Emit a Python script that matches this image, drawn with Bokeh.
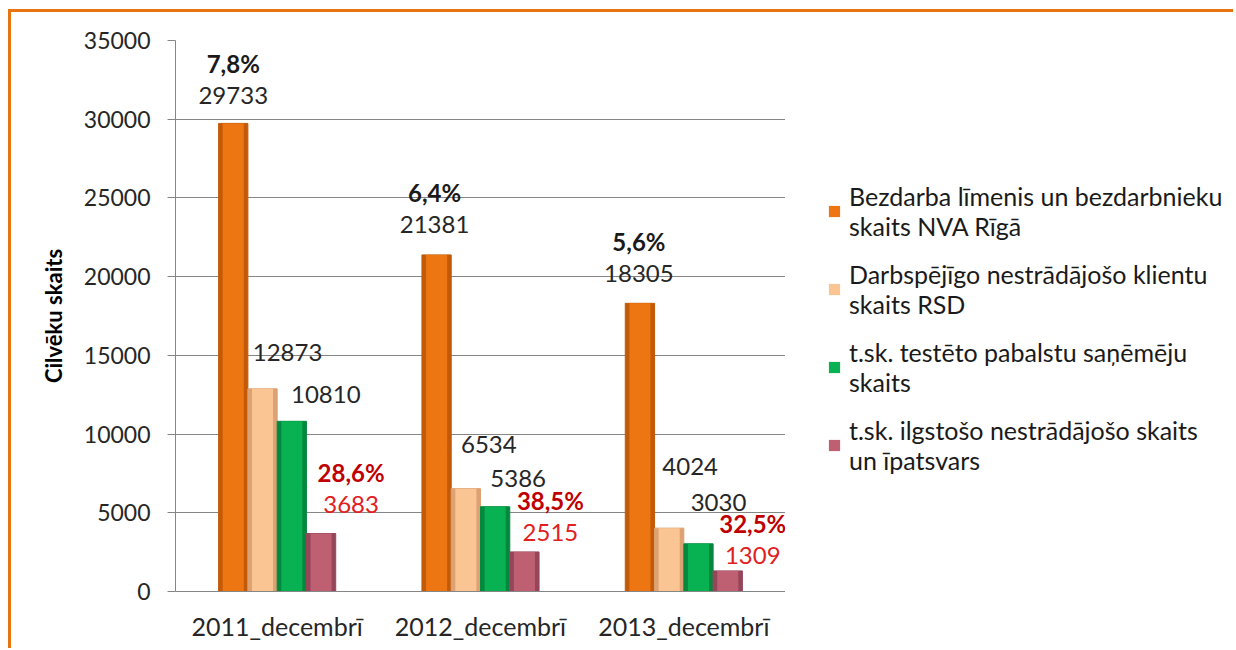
from bokeh.plotting import figure
from bokeh.layouts import row
from bokeh.models import FactorRange, Range1d, Legend, LegendItem, ColumnDataSource, FixedTicker
from bokeh.transform import dodge
from bokeh.core.properties import value
from bokeh.embed import file_html
from bokeh.resources import INLINE

# ---------------- data ----------------
years = ["2011_decembrī", "2012_decembrī", "2013_decembrī"]
series_names = [
    "Bezdarba līmenis un bezdarbnieku\nskaits NVA Rīgā",
    "Darbspējīgo nestrādājošo klientu\nskaits RSD",
    "t.sk. testēto pabalstu saņēmēju\nskaits",
    "t.sk. ilgstošo nestrādājošo skaits\nun īpatsvars",
]
nva_unemployed = [29733, 21381, 18305]
rsd_clients = [12873, 6534, 4024]
tested_recipients = [10810, 5386, 3030]
long_term = [3683, 2515, 1309]
unemployment_rate = ["7,8%", "6,4%", "5,6%"]
long_term_share = ["28,6%", "38,5%", "32,5%"]
y_ticks = [0, 5000, 10000, 15000, 20000, 25000, 30000, 35000]
y_label = "Cilvēku skaits"

# ---------------- styles ----------------
FONT = "Lato"
face_colors = ["#EE7612", "#FBC593", "#08B152", "#BE5F72"]
edge_colors = ["#C25A08", "#DDA273", "#05883E", "#96465A"]
offsets = [-0.216, -0.072, 0.072, 0.216]
bar_w = 0.144
# label placement (pixels): horizontal shift and gap above bar top
label_dx = [[0, -2, -1], [25, 23, 21], [34, 23, 20], [30, 26, 25]]
label_gap = [[18, 20, 20], [26, 34, 52], [17, 18, 31], [19, 9, 5]]
label_lift = 10
pct_gap = 32

values_all = [nva_unemployed, rsd_clients, tested_recipients, long_term]

p = figure(
    x_range=FactorRange(factors=years),
    y_range=Range1d(0, 35000),
    width=774, height=636,
    output_backend="svg", toolbar_location=None,
    min_border_left=164, min_border_top=28, min_border_bottom=57, min_border_right=0,
)
p.outline_line_color = None
p.background_fill_color = "white"
p.border_fill_color = "white"

# axes
p.yaxis.ticker = FixedTicker(ticks=y_ticks)
p.yaxis.axis_line_color = "#868686"
p.yaxis.major_tick_line_color = "#868686"
p.yaxis.major_tick_out = 8
p.yaxis.major_tick_in = 0
p.yaxis.minor_tick_line_color = None
p.yaxis.major_label_text_font = FONT
p.yaxis.major_label_text_font_size = "23px"
p.yaxis.major_label_text_color = "#262626"
p.yaxis.major_label_standoff = 17
p.yaxis.axis_label = y_label
p.yaxis.axis_label_text_font = FONT
p.yaxis.axis_label_text_font_size = "22px"
p.yaxis.axis_label_text_font_style = "bold"
p.yaxis.axis_label_text_color = "black"
p.yaxis.axis_label_standoff = 14

p.xaxis.axis_line_color = "#868686"
p.xaxis.major_tick_line_color = None
p.xaxis.minor_tick_line_color = None
p.xaxis.major_label_text_font = FONT
p.xaxis.major_label_text_font_size = "25px"
p.xaxis.major_label_text_color = "#262626"
p.xaxis.major_label_standoff = 13

p.xgrid.grid_line_color = None
p.ygrid.grid_line_color = "#868686"
p.ygrid.grid_line_width = 1

# legend panel
pl = figure(width=448, height=636, x_range=Range1d(0, 1), y_range=Range1d(0, 1),
            output_backend="svg", toolbar_location=None,
            min_border_left=0, min_border_right=0, min_border_top=0, min_border_bottom=0)
pl.axis.visible = False
pl.grid.grid_line_color = None
pl.outline_line_color = None
pl.border_fill_color = "white"

items = []
for i, vals in enumerate(values_all):
    src = ColumnDataSource(dict(year=years, v=vals, t=[str(v) for v in vals],
                                dx=label_dx[i],
                                dy=[-(g + label_lift) for g in label_gap[i]],
                                dyp=[-(g + label_lift + pct_gap) for g in label_gap[i]]))
    xs = dodge("year", offsets[i], range=p.x_range)
    p.vbar(x=xs, top="v", width=bar_w, source=src, fill_color=edge_colors[i],
           line_color=edge_colors[i], line_width=1)
    p.vbar(x=xs, top="v", width=bar_w * 0.72, source=src, fill_color=face_colors[i],
           line_color=None)
    # zero-size proxy glyph, only used for the legend swatch
    lr = pl.vbar(x=[0], top=[0], bottom=[0], width=0, fill_color=face_colors[i],
                 line_color=None)
    items.append(LegendItem(label=series_names[i], renderers=[lr]))
    col = "#E0201E" if i == 3 else "#262626"
    p.text(x=xs, y="v", text="t", source=src, x_offset="dx", y_offset="dy",
           text_align="center", text_baseline="alphabetic",
           text_font=value(FONT), text_font_size="24px", text_color=col)
    if i == 0:
        src.data["pct"] = unemployment_rate
        p.text(x=xs, y="v", text="pct", source=src, x_offset="dx", y_offset="dyp",
               text_align="center", text_baseline="alphabetic",
               text_font=value(FONT), text_font_size="24px", text_font_style="bold",
               text_color="#1A1A1A")
    if i == 3:
        src.data["pct"] = long_term_share
        p.text(x=xs, y="v", text="pct", source=src, x_offset="dx", y_offset="dyp",
               text_align="center", text_baseline="alphabetic",
               text_font=value(FONT), text_font_size="24px", text_font_style="bold",
               text_color="#C00000")

legend = Legend(items=items, location=(42, 116), margin=0, padding=0,
                spacing=18, glyph_width=14, glyph_height=14, label_standoff=8,
                label_text_font=FONT, label_text_font_size="25px",
                label_text_line_height=1.24,
                label_text_color="#1A1A1A", border_line_color=None,
                background_fill_alpha=0)
pl.add_layout(legend)

layout = row(p, pl, spacing=0)
layout.styles = {"border-top": "3px solid #E8740F", "border-left": "3px solid #E8740F",
                 "margin-left": "8px", "margin-top": "9px"}

open("out.html", "w").write(file_html(layout, INLINE))
